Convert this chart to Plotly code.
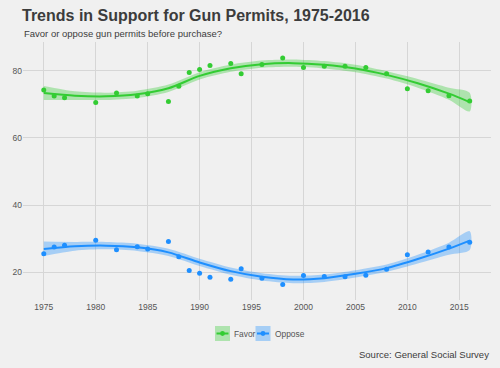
import plotly.graph_objects as go

# Survey points
years = [1975, 1976, 1977, 1980, 1982, 1984, 1985, 1987, 1988, 1989, 1990, 1991, 1993,
         1994, 1996, 1998, 2000, 2002, 2004, 2006, 2008, 2010, 2012, 2014, 2016]
favor = [74.3, 72.5, 72.0, 70.6, 73.4, 72.5, 73.2, 70.9, 75.4, 79.5, 80.4, 81.6, 82.2,
         79.1, 81.9, 83.8, 81.0, 81.4, 81.4, 81.0, 79.1, 74.7, 74.1, 72.6, 71.0]
oppose = [25.5, 27.5, 28.0, 29.5, 26.7, 27.6, 26.9, 29.1, 24.6, 20.5, 19.7, 18.5, 17.9,
          21.0, 18.2, 16.3, 19.0, 18.7, 18.6, 19.1, 20.9, 25.2, 26.0, 27.5, 28.9]

# Smoothed trend
smooth_years = [1975, 1978, 1981, 1984, 1987, 1990, 1993, 1996, 1999, 2002, 2005, 2008, 2011, 2014, 2016]
favor_fit = [73.4, 72.6, 72.4, 73.0, 74.8, 78.5, 80.8, 82.0, 82.3, 81.8, 80.7, 78.8, 76.3, 73.2, 70.7]
favor_hi = [75.5, 73.9, 73.5, 74.1, 75.9, 79.6, 81.9, 83.1, 83.4, 82.9, 81.8, 79.9, 77.6, 75.0, 73.5]
favor_lo = [71.3, 71.3, 71.3, 71.9, 73.7, 77.4, 79.7, 80.9, 81.2, 80.7, 79.6, 77.7, 75.0, 71.4, 67.9]
oppose_fit = [26.9, 27.7, 27.9, 27.4, 25.9, 22.9, 20.3, 18.6, 17.8, 18.2, 19.5, 21.2, 23.9, 27.0, 29.4]
oppose_hi = [29.1, 29.0, 29.0, 28.5, 27.0, 24.0, 21.4, 19.7, 18.9, 19.3, 20.6, 22.3, 25.2, 28.8, 32.2]
oppose_lo = [24.8, 26.4, 26.8, 26.3, 24.8, 21.8, 19.2, 17.5, 16.7, 17.1, 18.4, 20.1, 22.6, 25.2, 26.6]

series_names = ["Favor", "Oppose"]
x_ticks = [1975, 1980, 1985, 1990, 1995, 2000, 2005, 2010, 2015]
y_ticks = [20, 40, 60, 80]

GREEN = "#33cc33"
BLUE = "#1e8fff"
GREEN_FILL = "rgba(51,204,51,0.35)"
BLUE_FILL = "rgba(30,143,255,0.35)"
FONT = "Liberation Sans, Arial, sans-serif"

# plot area in pixels
L, R, T, B = 23, 491, 42, 300
W, H = R - L, B - T


def px_x(x):
    return (x - L) / W


def px_y(y):
    return (B - y) / H


fig = go.Figure()

for name, pts, fit, hi, lo, col, fillc in [
    (series_names[0], favor, favor_fit, favor_hi, favor_lo, GREEN, GREEN_FILL),
    (series_names[1], oppose, oppose_fit, oppose_hi, oppose_lo, BLUE, BLUE_FILL),
]:
    fig.add_trace(go.Scatter(x=smooth_years + smooth_years[::-1], y=hi + lo[::-1],
                             mode="lines", line=dict(width=0, shape="spline", smoothing=0.8),
                             fill="toself", fillcolor=fillc, hoverinfo="skip", showlegend=False))
    fig.add_trace(go.Scatter(x=smooth_years, y=fit, mode="lines", name=name,
                             line=dict(color=col, width=2, shape="spline", smoothing=0.8),
                             showlegend=False))
    fig.add_trace(go.Scatter(x=years, y=pts, mode="markers", name=name,
                             marker=dict(color=col, size=5), showlegend=False))

# legend (drawn as layout decoration, ggplot style keys)
shapes = []
annotations = []
legend_items = [(series_names[0], GREEN, GREEN_FILL, 215.0, 232.3),
                (series_names[1], BLUE, BLUE_FILL, 255.5, 272.7)]
ly0, ly1 = 326.0, 341.0
lyc = (ly0 + ly1) / 2
for name, col, fillc, kx, tx in legend_items:
    shapes.append(dict(type="rect", xref="paper", yref="paper",
                       x0=px_x(kx), x1=px_x(kx + 15), y0=px_y(ly1), y1=px_y(ly0),
                       fillcolor=fillc, line=dict(width=0), layer="above"))
    shapes.append(dict(type="line", xref="paper", yref="paper",
                       x0=px_x(kx + 1.5), x1=px_x(kx + 13.5), y0=px_y(lyc), y1=px_y(lyc),
                       line=dict(color=col, width=2), layer="above"))
    shapes.append(dict(type="circle", xref="paper", yref="paper",
                       x0=px_x(kx + 7.5 - 2.4), x1=px_x(kx + 7.5 + 2.4),
                       y0=px_y(lyc + 2.4), y1=px_y(lyc - 2.4),
                       fillcolor=col, line=dict(width=0), layer="above"))
    annotations.append(dict(text=name, xref="paper", yref="paper", x=px_x(tx), y=px_y(lyc),
                            xanchor="left", yanchor="middle", showarrow=False,
                            font=dict(family=FONT, size=8.4, color="#555555")))

annotations += [
    dict(text="Favor or oppose gun permits before purchase?", xref="paper", yref="paper",
         x=px_x(22), y=px_y(33.5), xanchor="left", yanchor="middle", showarrow=False,
         font=dict(family=FONT, size=9.5, color="#3c3c3c")),
    dict(text="Source: General Social Survey", xref="paper", yref="paper",
         x=px_x(491), y=px_y(354), xanchor="right", yanchor="middle", showarrow=False,
         font=dict(family=FONT, size=9.5, color="#3c3c3c")),
]

fig.update_layout(
    width=500, height=368,
    paper_bgcolor="#f0f0f0", plot_bgcolor="#f0f0f0",
    margin=dict(l=L, r=500 - R, t=T, b=368 - B),
    font=dict(family=FONT, size=8.5, color="#555555"),
    showlegend=False,
    title=dict(text="<b>Trends in Support for Gun Permits, 1975-2016</b>",
               x=22 / 500, xref="container", xanchor="left",
               y=1 - 15.5 / 368, yref="container", yanchor="middle",
               font=dict(family=FONT, size=16, color="#3c3c3c")),
    xaxis=dict(range=[1973.0, 2018.05], tickvals=x_ticks, showgrid=True,
               gridcolor="#d6d6d6", gridwidth=1, zeroline=False, showline=False,
               ticks="", tickfont=dict(size=8.5, color="#555555")),
    yaxis=dict(range=[11.7, 88.6], tickvals=y_ticks, showgrid=True,
               gridcolor="#d6d6d6", gridwidth=1, zeroline=False, showline=False,
               ticks="", tickfont=dict(size=8.5, color="#555555")),
    shapes=shapes,
    annotations=annotations,
)

fig.write_html("out.html", config={"displayModeBar": False},
               post_script="document.body.style.margin='0';document.body.style.background='#f0f0f0';")
